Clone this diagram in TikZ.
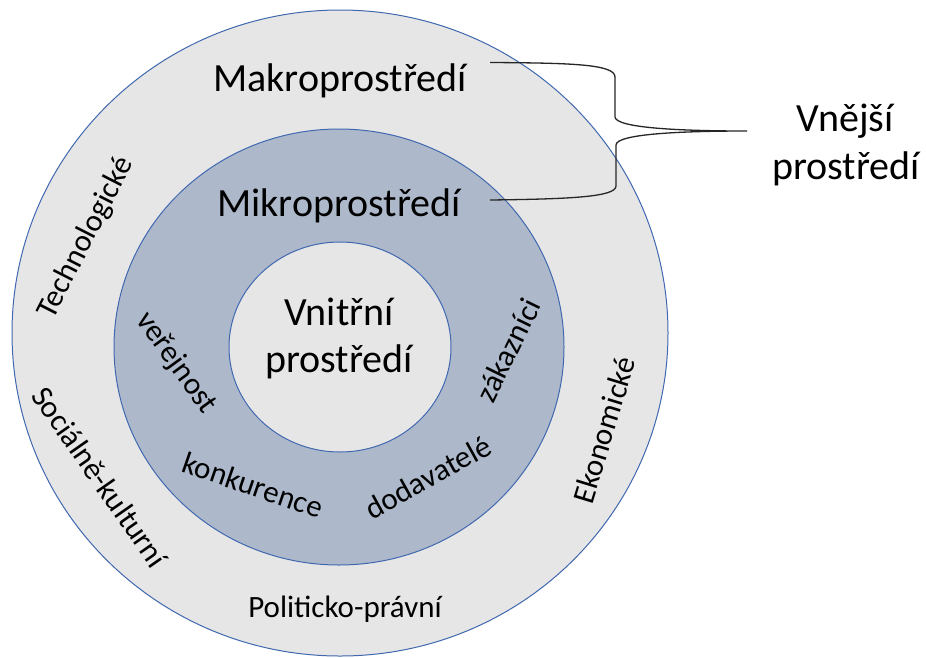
\documentclass[tikz,border=0pt]{standalone}
\usepackage{fontspec}
\setmainfont{Carlito}
\definecolor{outerfill}{HTML}{E7E6E6}
\definecolor{midfill}{HTML}{ADB9CA}
\definecolor{ringline}{HTML}{4068B0}
\begin{document}
\begin{tikzpicture}[x=1pt,y=-1pt,
  ring/.style={draw=ringline, line width=1pt},
  big/.style={font=\fontsize{40}{48}\selectfont, inner sep=0pt, align=center},
  lab/.style={font=\fontsize{31}{37}\selectfont, inner sep=0pt},
  bracel/.style={draw=black!85, line width=1.3pt}]
\useasboundingbox (0,0) rectangle (926,657);
\fill[white] (0,0) rectangle (926,657);
% rings
\draw[ring, fill=outerfill] (340,333) ellipse [x radius=328pt, y radius=323pt];
\draw[ring, fill=midfill] (339,347) ellipse [x radius=225pt, y radius=218pt];
\draw[ring, fill=outerfill] (340,347) ellipse [x radius=111pt, y radius=105pt];
% titles
\node[big, anchor=base] (makro) at (340,91) {Makroprostředí};
\node[big, anchor=base] (mikro) at (339,216) {Mikroprostředí};
\node[big, anchor=base] (vnitr1) at (339,325) {Vnitřní};
\node[big, anchor=base] (vnitr2) at (339,372) {prostředí};
\node[big, anchor=base] (vnej1) at (845,131) {Vnější};
\node[big, anchor=base] (vnej2) at (846,179) {prostředí};
% outer labels
\node[lab, rotate=63] (tech) at (86,238) {Technologické};
\node[lab, rotate=-55] (soc) at (100,477) {Sociálně-kulturní};
\node[lab, rotate=73] (eko) at (604,430) {Ekonomické};
\node[lab, anchor=base] (pol) at (345,617) {Politicko-právní};
% inner ring labels
\node[lab, rotate=-54] (ver) at (176,363) {veřejnost};
\node[lab, rotate=64] (zak) at (508,350) {zákazníci};
\node[lab, rotate=-19] (konk) at (253,485) {konkurence};
\node[lab, rotate=29] (dod) at (428,477) {dodavatelé};
% brace
\coordinate (btip) at (747,131);
\draw[bracel] (490,62.5) .. controls (570,63) and (615,64) .. (615,77)
  -- (615,117) .. controls (616,128) and (680,131) .. (btip)
  .. controls (680,131) and (616,134) .. (616,145)
  -- (616,186) .. controls (616,197) and (570,199) .. (490,200);
\end{tikzpicture}
\end{document}
